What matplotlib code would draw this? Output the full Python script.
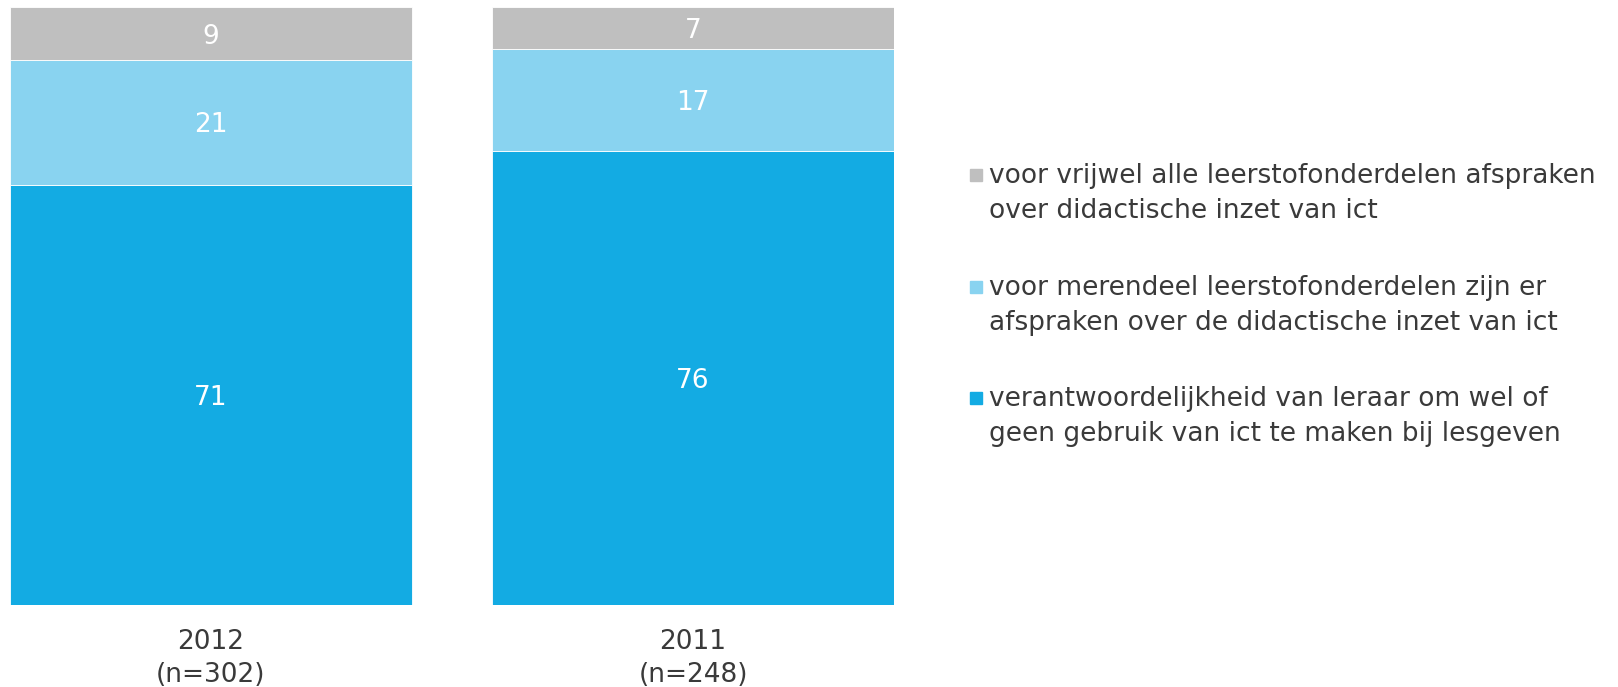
import matplotlib.pyplot as plt
from matplotlib.patches import Rectangle
import numpy as np

# data
groups = ["2012\n(n=302)", "2011\n(n=248)"]
leraar = [71, 76]          # verantwoordelijkheid van leraar
merendeel = [21, 17]       # voor merendeel leerstofonderdelen
vrijwel_alle = [9, 7]      # voor vrijwel alle leerstofonderdelen
series_labels = [
    "verantwoordelijkheid van leraar om wel of\ngeen gebruik van ict te maken bij lesgeven",
    "voor merendeel leerstofonderdelen zijn er\nafspraken over de didactische inzet van ict",
    "voor vrijwel alle leerstofonderdelen afspraken\nover didactische inzet van ict",
]
colors = ["#13ABE3", "#89D3F0", "#BFBFBF"]
text_col = "#3a3a3a"

plt.rcParams['font.family'] = ['DejaVu Sans']

fig = plt.figure(figsize=(16.18, 6.87), dpi=100)
ax = fig.add_axes([10/1618, 82/687, 884/1618, 598/687])

series = [np.array(leraar), np.array(merendeel), np.array(vrijwel_alle)]
totals = sum(series)
x = np.arange(len(groups))
bottom = np.zeros(len(groups))
for vals, col in zip(series, colors):
    h = vals / totals * 100
    ax.bar(x, h, bottom=bottom, width=0.834, color=col,
           edgecolor='white', linewidth=0.6)
    for xi, b, hh, v in zip(x, bottom, h, vals):
        ax.text(xi, b + hh / 2, str(v), ha='center', va='center_baseline',
                color='white', fontsize=19)
    bottom += h

ax.set_xlim(-0.417, 1.417)
ax.set_ylim(0, 100)
ax.set_xticks(x, labels=groups)
ax.tick_params(axis='x', length=0, pad=17, labelsize=19, labelcolor=text_col)
ax.set_yticks([])
for s in ax.spines.values():
    s.set_visible(False)
for lbl in ax.get_xticklabels():
    lbl.set_linespacing(1.38)

# legend, top entry first
leg_y = [175, 287, 398]
for yy, lab, col in zip(leg_y, series_labels[::-1], colors[::-1]):
    fig.patches.append(Rectangle((970/1618, 1 - (yy + 6)/687), 12/1618, 12/687,
                                 transform=fig.transFigure, color=col))
    fig.text(989/1618, 1 - (yy - 12)/687, lab, ha='left', va='top',
             fontsize=19, color=text_col, linespacing=1.45)

fig.savefig("out.png", dpi=100)
